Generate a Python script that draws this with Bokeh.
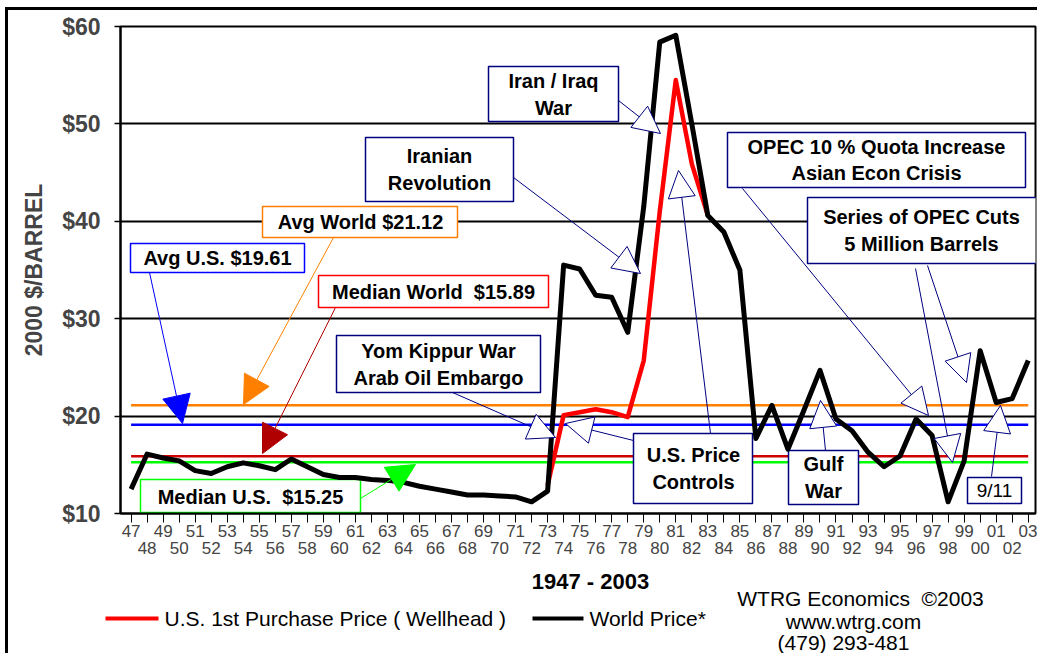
from bokeh.plotting import figure
from bokeh.layouts import column
from bokeh.models import FixedTicker, LinearAxis, Range1d, Label, Arrow, NormalHead
from bokeh.core.properties import value
from bokeh.embed import file_html
from bokeh.resources import INLINE

# ---------------- data ----------------
years = list(range(1947, 2004))
world_price = [12.5, 16.1, 15.7, 15.4, 14.4, 14.1, 14.8, 15.2, 14.9, 14.5,
               15.6, 14.8, 14.0, 13.7, 13.7, 13.5, 13.4, 13.2, 12.8, 12.5,
               12.2, 11.9, 11.9, 11.8, 11.7, 11.2, 12.3, 35.5, 35.1, 32.4,
               32.2, 28.6, 41.5, 58.4, 59.1, 50.0, 40.6, 38.9, 35.0, 17.7,
               21.1, 16.6, 20.6, 24.7, 19.7, 18.5, 16.3, 14.8, 15.9, 19.7,
               18.0, 11.2, 15.4, 26.7, 21.4, 21.8, 25.7]
us_years = list(range(1973, 1984))
us_price = [12.9, 20.1, 20.4, 20.7, 20.4, 19.9, 25.7, 41.0, 54.5, 45.9, 40.6]

ref_values = [21.12, 19.1, 15.89, 15.25]
ref_colors = ["#FF8000", "#0000FF", "#CC0000", "#00FF00"]
ref_labels = ["Avg World $21.12", "Avg U.S. $19.61", "Median World \u00a0$15.89", "Median U.S. \u00a0$15.25"]

y_ticks = [10, 20, 30, 40, 50, 60]
y_tick_labels = ["$10", "$20", "$30", "$40", "$50", "$60"]
x_tick_labels = ["%02d" % (y % 100) for y in years]

series_names = ["U.S. 1st Purchase Price ( Wellhead )", "World Price*"]
series_colors = ["#FF0000", "black"]

# ---------------- helpers (reference pixel -> data position) ----------------
X0, XS = 130.6, 16.02
Y0, YS = 513.0, 9.74
def dx(px):
    return 1947 + (px - X0) / XS
def dy(py):
    return 10 + (Y0 - py) / YS

SANS = "Liberation Sans"
NAVY = "#000080"

p = figure(width=1029, height=558,
           x_range=Range1d(dx(120.0), dx(1035)), y_range=Range1d(10, 60),
           output_backend="svg", toolbar_location=None,
           min_border_left=112, min_border_right=2, min_border_top=16, min_border_bottom=55)
p.frame_align = False
p.background_fill_color = "white"
p.border_fill_color = "white"
p.outline_line_color = "black"
p.outline_line_width = 2

# grid
p.xgrid.visible = False
p.ygrid.ticker = FixedTicker(ticks=y_ticks)
p.ygrid.grid_line_color = "black"
p.ygrid.grid_line_width = 2

# y axis
ya = p.yaxis[0]
ya.ticker = FixedTicker(ticks=y_ticks)
ya.major_label_overrides = {t: l for t, l in zip(y_ticks, y_tick_labels)}
ya.axis_line_width = 2
ya.major_tick_out = 6
ya.major_tick_in = 0
ya.major_tick_line_width = 1.5
ya.minor_tick_line_color = None
ya.major_label_standoff = 14
ya.major_label_text_font = SANS
ya.major_label_text_font_style = "bold"
ya.major_label_text_font_size = "23px"
ya.axis_label = "2000 $/BARREL"
ya.axis_label_text_font = SANS
ya.axis_label_text_font_style = "bold"
ya.axis_label_text_font_size = "23px"
ya.axis_label_standoff = 12

# x axis (two rows of labels)
xa = p.xaxis[0]
xa.ticker = FixedTicker(ticks=years)
xa.major_label_overrides = {y: (l if y % 2 == 1 else "") for y, l in zip(years, x_tick_labels)}
xa.axis_line_width = 2
xa.major_tick_out = 9
xa.major_tick_in = 0
xa.major_tick_line_width = 1
xa.minor_tick_line_color = None
xa.major_label_standoff = 2
xa.major_label_text_font = SANS
xa.major_label_text_font_size = "17px"

xa2 = LinearAxis(ticker=FixedTicker(ticks=years))
xa2.major_label_overrides = {y: (l if y % 2 == 0 else "") for y, l in zip(years, x_tick_labels)}
xa2.axis_line_color = None
xa2.major_tick_line_color = None
xa2.minor_tick_line_color = None
xa2.major_tick_out = 0
xa2.major_tick_in = 0
xa2.major_label_standoff = 2
xa2.major_label_text_font = SANS
xa2.major_label_text_font_size = "17px"
p.add_layout(xa2, "below")

# reference lines
for v, c in zip(ref_values, ref_colors):
    p.line([years[0], years[-1]], [v, v], line_color=c, line_width=2.5)

# callout boxes (white, bordered)
boxes = [
    # left, top, right, bottom (ref px), border colour
    (488, 66, 618, 121, NAVY),
    (365, 137, 513, 201, NAVY),
    (727, 132, 1025, 187, NAVY),
    (807, 197, 1040, 263, NAVY),
    (336, 335, 540, 392, NAVY),
    (633, 433, 752, 503, NAVY),
    (788, 450, 858, 504, NAVY),
    (967, 477, 1021, 503, NAVY),
    (262, 206, 457, 237, ref_colors[0]),
    (130, 243, 304, 272, ref_colors[1]),
    (318, 275, 548, 307, "#FF0000"),
    (140, 479, 360, 512, ref_colors[3]),
]
for l, t, r, b, c in boxes:
    p.quad(left=[dx(l)], right=[dx(r)], top=[dy(t)], bottom=[dy(b)],
           fill_color="white", line_color=c, line_width=1.5)

# data lines
p.line(us_years, us_price, line_color=series_colors[0], line_width=4.5, line_join="round")
p.line(years, world_price, line_color=series_colors[1], line_width=5, line_join="round")

# box texts
texts = [
    (553, 94, "Iran / Iraq\nWar", "bold", "20px"),
    (439, 169, "Iranian\nRevolution", "bold", "20px"),
    (876, 159.5, "OPEC 10 % Quota Increase\nAsian Econ Crisis", "bold", "20px"),
    (921, 230, "Series of OPEC Cuts\n5 Million Barrels", "bold", "20px"),
    (438, 364, "Yom Kippur War\nArab Oil Embargo", "bold", "20px"),
    (693, 468, "U.S. Price\nControls", "bold", "20px"),
    (823, 477, "Gulf\nWar", "bold", "20px"),
    (994, 490, "9/11", "normal", "19px"),
    (360, 221.5, ref_labels[0], "bold", "20px"),
    (217, 257.5, ref_labels[1], "bold", "20px"),
    (433, 291, ref_labels[2], "bold", "20px"),
    (250, 496, ref_labels[3], "bold", "20px"),
]
for cx, cy, txt, st, fs in texts:
    p.add_layout(Label(x=dx(cx), y=dy(cy), text=txt, text_align="center", text_baseline="middle",
                       text_font=SANS, text_font_style=st, text_font_size=fs,
                       text_line_height=1.2, text_color="black"))

# arrows
event_arrows = [
    (618, 100, 660, 133),
    (513, 177, 640, 273),
    (710, 433, 678, 170),
    (633, 440, 565, 423),
    (742, 188, 928, 415),
    (915, 268, 952, 462),
    (927, 265, 966, 382),
    (825, 450, 820, 400),
    (991, 476, 1000, 405),
    (452, 392, 555, 437),
]
for sx, sy, ex, ey in event_arrows:
    p.add_layout(Arrow(x_start=dx(sx), y_start=dy(sy), x_end=dx(ex), y_end=dy(ey),
                       line_color=NAVY, line_width=1,
                       end=NormalHead(size=27, fill_color="white", line_color=NAVY, line_width=1)))

avg_arrows = [
    (333, 237, 243, 404, ref_colors[0]),
    (149, 272, 182, 423, ref_colors[1]),
    (335, 307, 262, 453, "#B00000"),
    (360, 498, 415, 464, ref_colors[3]),
]
for sx, sy, ex, ey, c in avg_arrows:
    p.add_layout(Arrow(x_start=dx(sx), y_start=dy(sy), x_end=dx(ex), y_end=dy(ey),
                       line_color=c, line_width=1,
                       end=NormalHead(size=28, fill_color=c, line_color=c, line_width=1)))

# ---------------- bottom strip: caption, legend, credits (page-pixel coordinates) ----------------
TOP = 568
q = figure(width=1029, height=653 - TOP, x_range=Range1d(8, 1037), y_range=Range1d(653, TOP),
           output_backend="svg", toolbar_location=None, x_axis_type=None, y_axis_type=None,
           min_border=0)
q.frame_align = False
q.outline_line_color = None
q.xgrid.visible = False
q.ygrid.visible = False
q.background_fill_color = "white"
q.border_fill_color = "white"

q.text(x=[590], y=[581], text=["1947 - 2003"], text_align="center", text_baseline="middle",
       text_font=value(SANS), text_font_style="bold", text_font_size="22px", text_color="black")

q.line([105, 158], [618, 618], line_color=series_colors[0], line_width=4)
q.text(x=[164], y=[618], text=[series_names[0]], text_align="left", text_baseline="middle",
       text_font=value(SANS), text_font_size="21px", text_color="black")
q.line([532, 583], [618, 618], line_color=series_colors[1], line_width=4)
q.text(x=[589], y=[618], text=[series_names[1]], text_align="left", text_baseline="middle",
       text_font=value(SANS), text_font_size="21px", text_color="black")

q.text(x=[860, 853, 843], y=[598, 621, 642],
       text=["WTRG Economics \u00a0\u00a92003", "www.wtrg.com", "(479) 293-481"],
       text_align="center", text_baseline="middle",
       text_font=value(SANS), text_font_size="21px", text_color="black")

layout = column(p, q, spacing=0,
                styles={"margin-left": "5px", "margin-top": "7px",
                        "border-left": "3px solid black", "border-top": "3px solid black"})

open("out.html", "w").write(file_html(layout, INLINE))
